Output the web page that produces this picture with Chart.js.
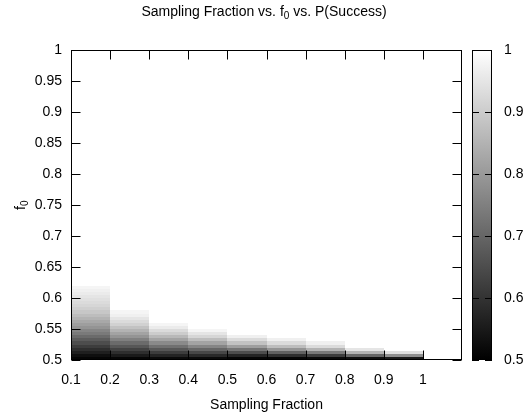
<!DOCTYPE html>
<html>
<head>
<meta charset="utf-8">
<script src="https://cdn.jsdelivr.net/npm/chart.js@4.4.1/dist/chart.umd.min.js"></script>
<style>
  html, body { margin: 0; padding: 0; background: #fff; }
  #wrap { width: 528px; height: 415px; }
</style>
</head>
<body>
<div id="wrap"><canvas id="chart" width="528" height="415"></canvas></div>
<script>
/* Heatmap: sampling fraction (x) vs f0 (y), colour = P(success) */

const samplingFractions = [0.1, 0.2, 0.3, 0.4, 0.5, 0.6, 0.7, 0.8, 0.9, 1.0];
const colWidth = 0.1;
const f0Start = 0.5;
const f0Step = 0.005;

// P(success) per column, from f0 = 0.5 upward in f0Step rows (above = 1, white)
const pSf01 = [0.51, 0.53, 0.56, 0.59, 0.62, 0.65, 0.68, 0.71, 0.74, 0.76, 0.79, 0.81,
               0.83, 0.85, 0.87, 0.89, 0.905, 0.92, 0.93, 0.94, 0.95, 0.96, 0.97, 0.98];
const pSf02 = [0.51, 0.55, 0.59, 0.63, 0.67, 0.71, 0.75, 0.79, 0.82, 0.85, 0.88, 0.91,
               0.93, 0.95, 0.97, 0.98];
const pSf03 = [0.52, 0.57, 0.62, 0.67, 0.72, 0.77, 0.82, 0.86, 0.90, 0.93, 0.96, 0.98];
const pSf04 = [0.52, 0.58, 0.64, 0.70, 0.76, 0.82, 0.87, 0.92, 0.95, 0.98];
const pSf05 = [0.51, 0.57, 0.65, 0.73, 0.81, 0.88, 0.93, 0.97];
const pSf06 = [0.51, 0.59, 0.69, 0.79, 0.87, 0.93, 0.97];
const pSf07 = [0.52, 0.62, 0.74, 0.85, 0.93, 0.97];
const pSf08 = [0.53, 0.70, 0.85, 0.95];
const pSf09 = [0.55, 0.78, 0.94];
const pSf10 = [];
const columns = [pSf01, pSf02, pSf03, pSf04, pSf05, pSf06, pSf07, pSf08, pSf09, pSf10];

const xTicks = [0.1, 0.2, 0.3, 0.4, 0.5, 0.6, 0.7, 0.8, 0.9, 1];
const yTicks = [0.5, 0.55, 0.6, 0.65, 0.7, 0.75, 0.8, 0.85, 0.9, 0.95, 1];
const cbTicks = [0.5, 0.6, 0.7, 0.8, 0.9, 1];

// text with a subscript part: [text, isSub]
const titleParts = [['Sampling Fraction vs. f', false], ['0', true], [' vs. P(Success)', false]];
const yLabelParts = [['f', false], ['0', true]];

const FONT = "'Liberation Sans', Arial, sans-serif";
Chart.defaults.font.family = FONT;
Chart.defaults.font.size = 14;
Chart.defaults.color = '#000';

function grayFor(p) {
  const t = Math.max(0, Math.min(1, (p - 0.5) / 0.5));
  const g = Math.round(t * 255);
  return `rgb(${g},${g},${g})`;
}

function fmt(v) { return String(+v.toFixed(2)); }

// draws parts centred on (cx, cy), subscripts smaller and lowered
function drawSubText(ctx, parts, cx, cy) {
  const big = '14px ' + FONT, small = '10px ' + FONT;
  let total = 0;
  const widths = parts.map(([t, sub]) => {
    ctx.font = sub ? small : big;
    const w = ctx.measureText(t).width;
    total += w;
    return w;
  });
  let x = cx - total / 2;
  ctx.textAlign = 'left';
  ctx.textBaseline = 'middle';
  ctx.fillStyle = '#000';
  parts.forEach(([t, sub], i) => {
    ctx.font = sub ? small : big;
    ctx.fillText(t, x, sub ? cy + 4 : cy);
    x += widths[i];
  });
}

const labels = {
  id: 'labels',
  afterDraw(chart) {
    const { ctx, chartArea: a } = chart;
    ctx.save();
    drawSubText(ctx, titleParts, chart.width / 2, 12.5);
    ctx.translate(21, (a.top + a.bottom) / 2);
    ctx.rotate(-Math.PI / 2);
    drawSubText(ctx, yLabelParts, 0, 0);
    ctx.restore();
  }
};

const heatmap = {
  id: 'heatmap',
  beforeDatasetsDraw(chart) {
    const { ctx, chartArea: a, scales: { x, y } } = chart;
    ctx.save();
    ctx.beginPath();
    ctx.rect(a.left, a.top, a.right - a.left, a.bottom - a.top);
    ctx.clip();
    columns.forEach((vals, i) => {
      const xl = Math.round(x.getPixelForValue(samplingFractions[i]));
      const xr = Math.round(x.getPixelForValue(samplingFractions[i] + colWidth));
      vals.forEach((p, j) => {
        const lo = f0Start + j * f0Step;
        const yb = Math.round(y.getPixelForValue(lo));
        const yt = Math.round(y.getPixelForValue(lo + f0Step));
        ctx.fillStyle = grayFor(p);
        ctx.fillRect(xl, yt, xr - xl, yb - yt);
      });
    });
    ctx.restore();
  },
  afterDatasetsDraw(chart) {
    const { ctx, chartArea: a, scales: { x, y } } = chart;
    const L = Math.round(a.left) + 0.5, R = Math.round(a.right) - 0.5;
    const T = Math.round(a.top) + 0.5, B = Math.round(a.bottom) - 0.5;
    const tl = 9;
    ctx.save();
    ctx.strokeStyle = '#000';
    ctx.lineWidth = 1;
    ctx.beginPath();
    yTicks.forEach(v => {
      const py = Math.round(y.getPixelForValue(v)) + 0.5;
      ctx.moveTo(L, py); ctx.lineTo(L + tl, py);
      ctx.moveTo(R, py); ctx.lineTo(R - tl, py);
    });
    xTicks.forEach(v => {
      const px = Math.round(x.getPixelForValue(v)) + 0.5;
      ctx.moveTo(px, B); ctx.lineTo(px, B - tl);
      ctx.moveTo(px, T); ctx.lineTo(px, T + tl);
    });
    ctx.stroke();
    ctx.strokeRect(L, T, R - L, B - T);
    ctx.restore();
  }
};

const colorbar = {
  id: 'colorbar',
  afterDraw(chart) {
    const { ctx } = chart;
    const s = chart.scales.cb;
    const x0 = Math.round(s.left) + 10;
    const w = 20;
    const yTop = Math.round(s.getPixelForValue(1));
    const yBot = Math.round(s.getPixelForValue(0.5));
    ctx.save();
    const grad = ctx.createLinearGradient(0, yBot, 0, yTop);
    grad.addColorStop(0, grayFor(0.5));
    grad.addColorStop(1, grayFor(1));
    ctx.fillStyle = grad;
    ctx.fillRect(x0, yTop, w, yBot - yTop);
    ctx.strokeStyle = '#000';
    ctx.lineWidth = 1;
    ctx.strokeRect(x0 + 0.5, yTop + 0.5, w - 1, yBot - yTop - 1);
    ctx.beginPath();
    cbTicks.forEach(v => {
      const py = Math.round(s.getPixelForValue(v)) + 0.5;
      ctx.moveTo(x0, py); ctx.lineTo(x0 + 7, py);
      ctx.moveTo(x0 + w, py); ctx.lineTo(x0 + w - 7, py);
    });
    ctx.stroke();
    ctx.restore();
  }
};

new Chart(document.getElementById('chart'), {
  type: 'scatter',
  data: { datasets: [{ data: [] }] },
  options: {
    responsive: false,
    animation: false,
    devicePixelRatio: 1,
    layout: { padding: { top: 37 } },
    plugins: {
      legend: { display: false },
      tooltip: { enabled: false },
      title: { display: false },
    },
    scales: {
      x: {
        type: 'linear', min: 0.1, max: 1.1,
        grid: { display: false, drawTicks: false },
        border: { display: false },
        afterBuildTicks: s => { s.ticks = xTicks.map(v => ({ value: v })); },
        afterFit: s => { s.height = 55; },
        ticks: { padding: 12, callback: v => fmt(v), maxRotation: 0, autoSkip: false },
        title: { display: true, text: 'Sampling Fraction', padding: { top: 0, bottom: 1 } },
      },
      y: {
        type: 'linear', min: 0.5, max: 1,
        grid: { display: false, drawTicks: false },
        border: { display: false },
        afterBuildTicks: s => { s.ticks = yTicks.map(v => ({ value: v })); },
        afterFit: s => { s.width = 71; },
        ticks: { padding: 9, callback: v => fmt(v), autoSkip: false },
      },
      cb: {
        type: 'linear', position: 'right', min: 0.5, max: 1,
        grid: { display: false, drawTicks: false },
        border: { display: false },
        afterBuildTicks: s => { s.ticks = cbTicks.map(v => ({ value: v })); },
        afterFit: s => { s.width = 66; },
        ticks: { padding: 42, callback: v => fmt(v), autoSkip: false },
      },
    },
  },
  plugins: [heatmap, colorbar, labels],
});
</script>
</body>
</html>
